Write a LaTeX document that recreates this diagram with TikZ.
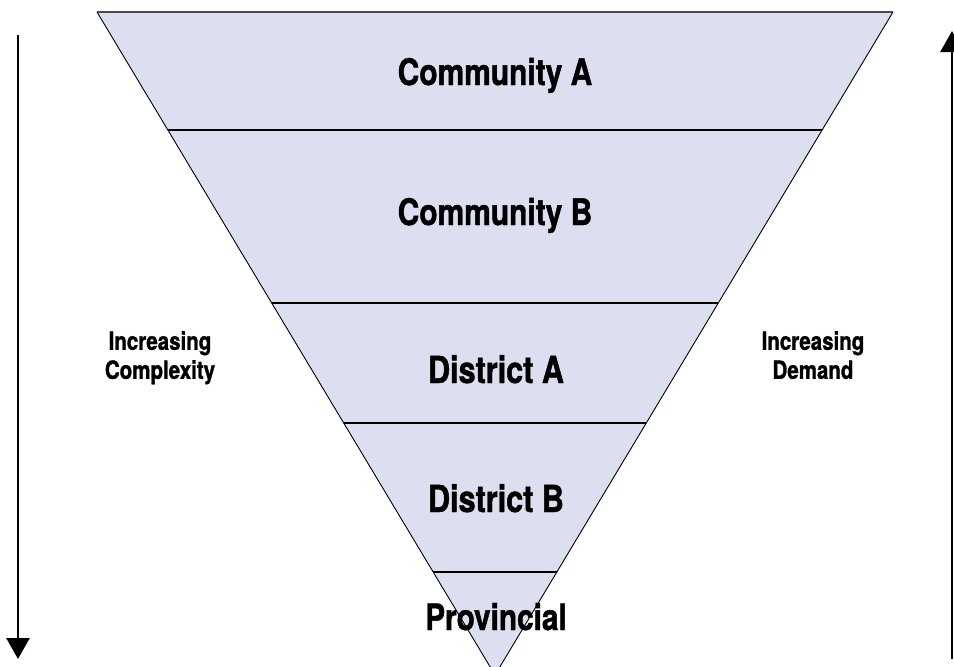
\documentclass[tikz,border=0pt]{standalone}
\usepackage{fontspec}
\usepackage{tikz}
\setmainfont{TeX Gyre Heros}[FakeStretch=0.82, BoldFeatures={FakeBold=1.2}]
\usetikzlibrary{arrows.meta, calc}
\definecolor{tierfill}{RGB}{220,223,240}
\newcommand{\tiersize}[1]{\bfseries\fontsize{#1}{40}\selectfont}
\tikzstyle{tier} = [inner sep=0pt, anchor=base]
\tikzstyle{side} = [font=\bfseries\fontsize{25}{29}\selectfont, align=center, inner sep=0pt, anchor=north]
\tikzstyle{longarrow} = [line width=2.8pt, -{Triangle[width=23pt,length=21pt]}]
\tikzstyle{divider} = [line width=1.4pt]

\begin{document}
\begin{tikzpicture}[x=1pt, y=-1pt]
        \useasboundingbox (0,0) rectangle (954,667);
        \clip (0,0) rectangle (954,667);

        % Corners of the funnel
        \coordinate (TL) at (97,12);
        \coordinate (TR) at (893,12);
        \coordinate (P) at (495,675);

        \fill[tierfill] (TL) -- (TR) -- (P) -- cycle;
        \draw[black!70, line width=1.2pt] (TL) -- (TR);
        \draw[line width=0.9pt] (TL) -- (P) -- (TR);

        % Dividers between the levels
        \foreach \t [count=\i] in {0.178, 0.4389, 0.6199, 0.8446} {
            \coordinate (L\i) at ($(TL)!\t!(P)$);
            \coordinate (R\i) at ($(TR)!\t!(P)$);
            \draw[divider] (L\i) -- (R\i);
        }

        % Level names
        \node[tier, font=\tiersize{36.5}] (comA) at (495,85) {Community A};
        \node[tier, font=\tiersize{36.5}] (comB) at (495,225) {Community B};
        \node[tier, font=\tiersize{37.3}] (disA) at (496,383) {District A};
        \node[tier, font=\tiersize{37.3}] (disB) at (496,512) {District B};
        \node[tier, font=\tiersize{36.3}] (prov) at (496,630) {Provincial};

        % Side arrows
        \coordinate (cTop) at (18,35);
        \coordinate (cBot) at (18,659);
        \coordinate (dBot) at (952,659);
        \coordinate (dTop) at (952,31);
        \draw[longarrow] (cTop) -- (cBot);
        \draw[longarrow] (dBot) -- (dTop);

        \node[side] (cmpx) at (160,331) {Increasing\\Complexity};
        \node[side] (dmnd) at (813,331) {Increasing\\Demand};

\end{tikzpicture}
\end{document}
